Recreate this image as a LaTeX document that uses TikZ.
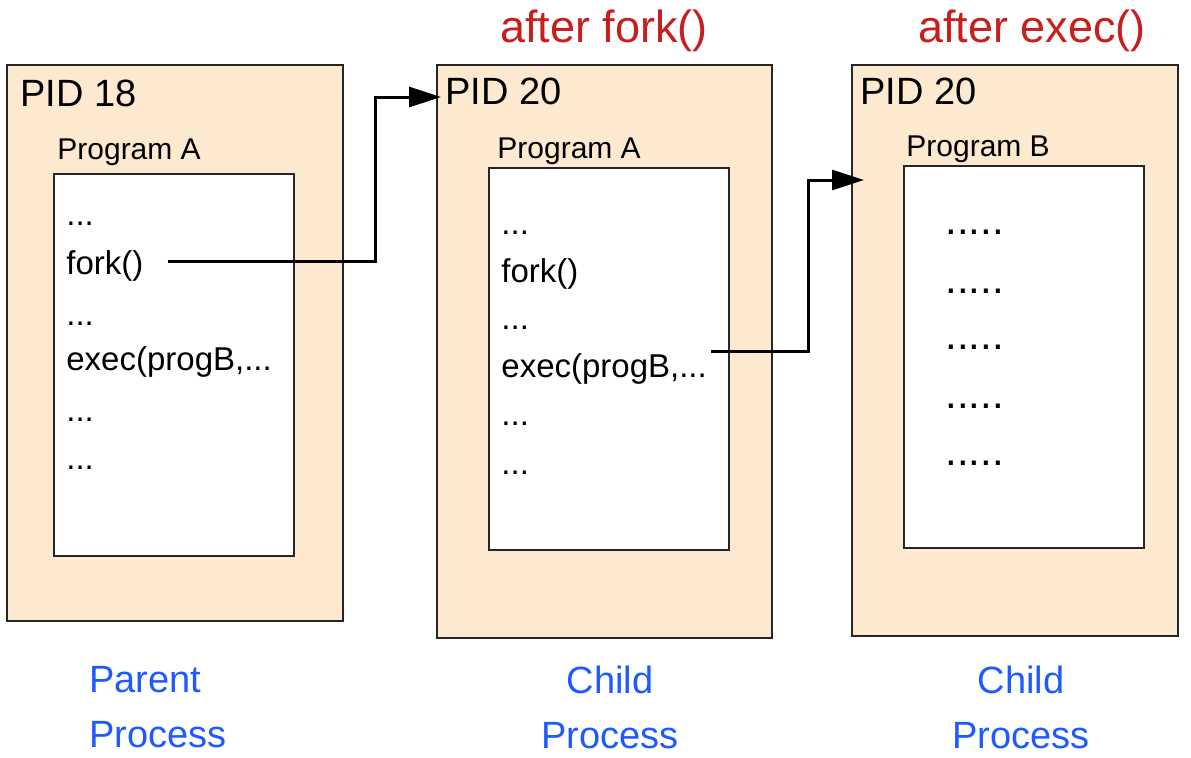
\documentclass[tikz,border=0pt]{standalone}
\usepackage{fontspec}
\setmainfont{Liberation Sans}
\usetikzlibrary{arrows.meta, positioning}
\definecolor{peach}{RGB}{253,233,208}
\definecolor{titlered}{RGB}{200,30,30}
\definecolor{labelblue}{RGB}{30,90,255}

\begin{document}
\begin{tikzpicture}[
    x=0.5pt, y=-0.5pt,
    process/.style={rectangle, draw=black!85, line width=1pt, fill=peach, inner sep=0pt},
    program/.style={rectangle, draw=black!85, line width=1pt, fill=white, minimum width=120pt, minimum height=191pt, inner sep=0pt},
    pid/.style={anchor=base west, inner sep=0pt, font=\fontsize{19}{22}\selectfont},
    progname/.style={anchor=base west, inner sep=0pt, font=\fontsize{15}{18}\selectfont},
    code/.style={anchor=base west, inner sep=0pt, text height=12pt, text depth=3.5pt, font=\fontsize{16.5}{20}\selectfont},
    filler/.style={code, font=\fontsize{21}{24}\selectfont},
    title/.style={font=\fontsize{22.5}{26}\selectfont, text=titlered},
    caption/.style={font=\fontsize{19}{27.5}\selectfont, text=labelblue, align=center},
    link/.style={-{Triangle[length=16pt, width=10pt]}, line width=1.5pt}
]
    \useasboundingbox (0,0) rectangle (1191,757);

    % Titles
    \node[title] (forktitle) at (604,31) {after fork()};
    \node[title] (exectitle) at (1032,31) {after exec()};

    % Parent process
    \node[process, minimum width=168pt, minimum height=278pt] (parent) at (175,343) {};
    \node[program] (progA1) at (174,365) {};
    \node[pid] (pid1) at (20,106) {PID 18};
    \node[progname] (name1) at (57,159) {Program A};
    \node[code] (dots11) at (66,225) {...};
    \node[code] (fork1) at (66,274) {fork()};
    \node[code] (dots12) at (66,325) {...};
    \node[code] (exec1) at (66,370) {exec(progB,...};
    \node[code] (dots13) at (66,421) {...};
    \node[code] (dots14) at (66,469) {...};

    % Child process after fork
    \node[process, minimum width=167.5pt, minimum height=286.5pt] (child) at (604.5,351.5) {};
    \node[program] (progA2) at (609,359) {};
    \node[pid] (pid2) at (445,104) {PID 20};
    \node[progname] (name2) at (497,158) {Program A};
    \node[code] (dots21) at (501,234) {...};
    \node[code] (fork2) at (501,282) {fork()};
    \node[code] (dots22) at (501,329) {...};
    \node[code] (exec2) at (501,377) {exec(progB,...};
    \node[code] (dots23) at (501,425) {...};
    \node[code] (dots24) at (501,474) {...};

    % Child process after exec
    \node[process, minimum width=163pt, minimum height=285.5pt] (childB) at (1015,350.5) {};
    \node[program] (progB) at (1024,357) {};
    \node[pid] (pid3) at (860,104) {PID 20};
    \node[progname] (name3) at (906,156) {Program B};
    \node[filler] (dots31) at (945,234) {.....};
    \node[filler] (dots32) at (945,293) {.....};
    \node[filler] (dots33) at (945,349) {.....};
    \node[filler] (dots34) at (945,408) {.....};
    \node[filler] (dots35) at (945,465) {.....};

    % Captions
    \node[caption, align=left, anchor=west, inner sep=0pt] (parentcap) at (89,707) {Parent\\Process};
    \node[caption] (childcap) at (610,707) {Child\\Process};
    \node[caption] (childBcap) at (1021,707) {Child\\Process};

    % Links
    \coordinate (bend1) at (375,97);
    \coordinate (tip1) at (441,97);
    \coordinate (bend2) at (808,180);
    \coordinate (tip2) at (864,180);
    \draw[link] ([xshift=12pt, yshift=2pt]fork1.east) -| (bend1) -- (tip1);
    \draw[link] ([xshift=2pt, yshift=8.5pt]exec2.east) -| (bend2) -- (tip2);

\end{tikzpicture}
\end{document}
